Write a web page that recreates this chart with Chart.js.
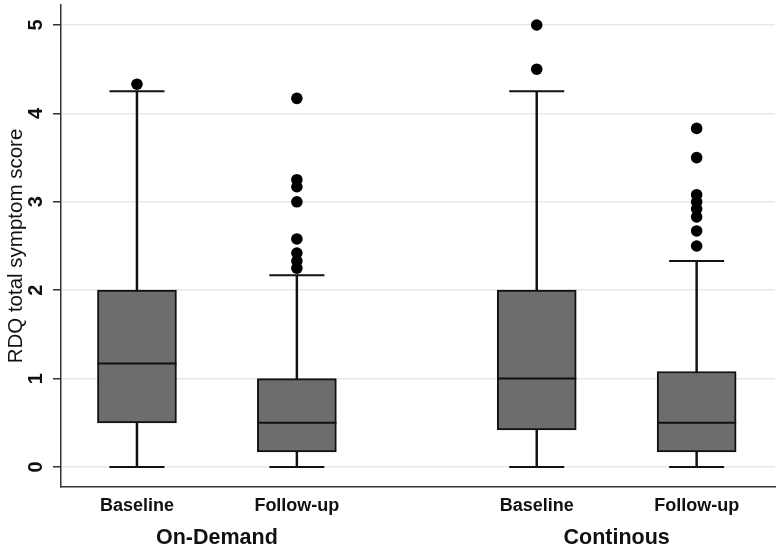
<!DOCTYPE html>
<html>
<head>
<meta charset="utf-8">
<script src="https://cdn.jsdelivr.net/npm/chart.js@4.4.0/dist/chart.umd.min.js"></script>
<style>
    body { margin: 0; background: #fff; }
    #wrap { width: 780px; height: 550px; }
</style>
</head>
<body>
<div id="wrap"><canvas id="rdqChart"></canvas></div>
<script>
// Box plot summary values
const groups = ['On-Demand', 'Continous'];
const visits = ['Baseline', 'Follow-up', 'Baseline', 'Follow-up'];
const lowWhisker = [0, 0, 0, 0];
const q1 = [0.5, 0.17, 0.42, 0.17];
const median = [1.17, 0.5, 1.0, 0.5];
const q3 = [2.0, 1.0, 2.0, 1.08];
const highWhisker = [4.25, 2.17, 4.25, 2.33];
const outliers = [
    [4.33],
    [4.17, 3.25, 3.17, 3.0, 2.58, 2.42, 2.33, 2.25],
    [5.0, 4.5],
    [3.83, 3.5, 3.08, 3.0, 2.92, 2.83, 2.67, 2.5],
];
const yTicks = [0, 1, 2, 3, 4, 5];

// two boxes per group, wider gap between groups
const boxX = visits.map((v, i) => Math.floor(i / 2) * 2.5 + (i % 2));
const groupX = groups.map((g, i) => i * 2.5 + 0.5);
const X_MIN = -0.475, X_MAX = 3.99;

const font = 'Liberation Sans, Arial, sans-serif';
const ink = '#111';

// drop the extra edge padding Chart.js reserves for tick labels
function noEdgePadding(scale) {
    scale.paddingTop = 0;
    scale.paddingBottom = 0;
    scale.paddingLeft = 0;
    scale.paddingRight = 0;
}

const ctx = document.getElementById('rdqChart').getContext('2d');
const rdqChart = new Chart(ctx, {
    type: 'scatter',
    data: {
        datasets: [
            {
                label: 'Outliers',
                data: outliers.flatMap((vals, i) => vals.map(v => ({ x: boxX[i], y: v }))),
                pointStyle: 'circle',
                radius: 5.8,
                backgroundColor: '#000',
                borderWidth: 0,
                order: 0,
            },
            {
                label: 'Median',
                data: median.map((v, i) => ({ x: boxX[i], y: v })),
                pointStyle: 'line',
                radius: 39.5,
                borderColor: ink,
                borderWidth: 2,
                order: 1,
            },
            {
                label: 'Caps',
                data: lowWhisker.map((v, i) => ({ x: boxX[i], y: v }))
                    .concat(highWhisker.map((v, i) => ({ x: boxX[i], y: v }))),
                pointStyle: 'line',
                radius: 27.5,
                borderColor: ink,
                borderWidth: 2,
                order: 2,
            },
            {
                type: 'bar',
                label: 'Box',
                data: q1.map((v, i) => ({ x: boxX[i], y: [v, q3[i]] })),
                backgroundColor: '#6d6d6d',
                borderColor: ink,
                borderWidth: 2,
                borderSkipped: false,
                barThickness: 79,
                grouped: false,
                order: 3,
            },
            {
                type: 'bar',
                label: 'Whisker',
                data: lowWhisker.map((v, i) => ({ x: boxX[i], y: [v, highWhisker[i]] })),
                backgroundColor: ink,
                borderWidth: 0,
                barThickness: 1.8,
                grouped: false,
                order: 4,
            },
        ]
    },
    options: {
        responsive: true,
        maintainAspectRatio: false,
        animation: false,
        events: [],
        layout: {
            autoPadding: false,
            padding: { top: 5, right: 5, left: 0, bottom: 0 },
        },
        scales: {
            x: {
                type: 'linear',
                position: 'bottom',
                weight: 0,
                min: X_MIN,
                max: X_MAX,
                offset: false,
                afterBuildTicks: scale => { scale.ticks = boxX.map(v => ({ value: v })); },
                afterFit: scale => { scale.height = 32; noEdgePadding(scale); },
                grid: { display: false, drawTicks: false },
                border: { display: true, color: '#333', width: 1.5 },
                ticks: {
                    autoSkip: false,
                    maxRotation: 0,
                    padding: 8,
                    color: ink,
                    font: { family: font, size: 18, weight: 'bold' },
                    callback: (value, index) => visits[index],
                },
            },
            x2: {
                type: 'linear',
                position: 'bottom',
                weight: 1,
                min: X_MIN,
                max: X_MAX,
                offset: false,
                afterBuildTicks: scale => { scale.ticks = groupX.map(v => ({ value: v })); },
                afterFit: scale => { scale.height = 31; noEdgePadding(scale); },
                grid: { display: false, drawTicks: false },
                border: { display: false },
                ticks: {
                    autoSkip: false,
                    maxRotation: 0,
                    padding: 6,
                    color: ink,
                    font: { family: font, size: 21.5, weight: 'bold' },
                    callback: (value, index) => groups[index],
                },
            },
            y: {
                min: -0.226,
                max: 5.226,
                afterBuildTicks: scale => { scale.ticks = yTicks.map(v => ({ value: v })); },
                afterFit: scale => { scale.width = 61; noEdgePadding(scale); },
                grid: {
                    color: '#e8e8e8',
                    lineWidth: 1.5,
                    tickColor: '#333',
                    tickLength: 8,
                    tickWidth: 1.5,
                },
                border: { display: true, color: '#333', width: 1.5 },
                ticks: {
                    minRotation: 90,
                    maxRotation: 90,
                    crossAlign: 'center',
                    padding: 11,
                    color: ink,
                    font: { family: font, size: 20, weight: 'bold' },
                },
                title: {
                    display: true,
                    text: 'RDQ total symptom score',
                    color: ink,
                    padding: { top: 4, bottom: 0 },
                    font: { family: font, size: 20.5 },
                },
            },
        },
        plugins: {
            legend: { display: false },
            tooltip: { enabled: false },
        },
    },
});
</script>
</body>
</html>
